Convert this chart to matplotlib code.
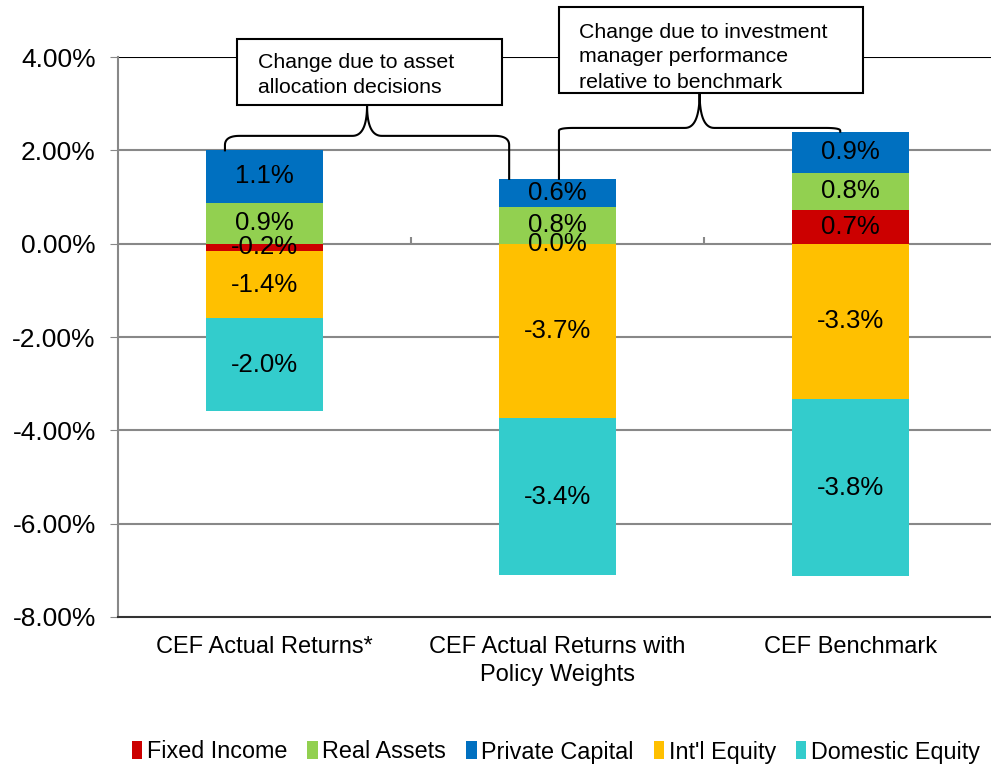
import numpy as np
import matplotlib
matplotlib.use("Agg")
import matplotlib.pyplot as plt
from matplotlib.patches import Rectangle
from matplotlib.ticker import FuncFormatter

plt.rcParams['font.family'] = ['Liberation Sans', 'DejaVu Sans']

# dados (retornos em %)
categorias = ["CEF Actual Returns*", "CEF Actual Returns with\nPolicy Weights", "CEF Benchmark"]
series = ["Fixed Income", "Real Assets", "Private Capital", "Int'l Equity", "Domestic Equity"]
fixed_income = [-0.16, 0.0, 0.73]
real_assets = [0.88, 0.79, 0.79]
private_capital = [1.12, 0.60, 0.88]
intl_equity = [-1.44, -3.73, -3.33]
domestic_equity = [-1.98, -3.38, -3.79]
cores = ["#CC0000", "#92D050", "#0070C0", "#FFC000", "#33CCCC"]

texto_caixa1 = "Change due to asset\nallocation decisions"
texto_caixa2 = "Change due to investment\nmanager performance\nrelative to benchmark"

valores = [fixed_income, real_assets, private_capital, intl_equity, domestic_equity]

W, H = 991, 767
fig = plt.figure(figsize=(W / 100, H / 100), dpi=100)
ax = fig.add_axes([118 / W, (H - 617) / H, 879 / W, 560 / H])

x = np.arange(len(categorias))
pos = np.zeros(len(categorias))
neg = np.zeros(len(categorias))
for nome, vals, cor in zip(series, valores, cores):
    vals = np.array(vals)
    base = np.where(vals >= 0, pos, neg)
    barras = ax.bar(x, vals, bottom=base, width=0.4, color=cor, label=nome, zorder=3)
    rotulos = ax.bar_label(barras, labels=[f"{v:.1f}%" for v in vals], label_type='center', fontsize=18.5)
    for r in rotulos:
        r.set_zorder(6)
    pos = pos + np.where(vals >= 0, vals, 0)
    neg = neg + np.where(vals < 0, vals, 0)

ax.set_xlim(-0.5, 2.5)
ax.set_ylim(-8, 4)
ax.set_yticks(np.arange(-8, 5, 2))
ax.yaxis.set_major_formatter(FuncFormatter(lambda v, p: f"{v:.2f}%"))
ax.set_xticks(x)
ax.set_xticklabels(categorias, fontsize=17, linespacing=1.35)
ax.tick_params(axis='x', length=0, pad=14)
ax.tick_params(axis='y', length=6, color='#888888', labelsize=19, pad=10)

# grade
for g in np.arange(-6, 4, 2):
    ax.axhline(g, color='#888888', lw=1.5, zorder=1)
ax.axhline(4, color='black', lw=1.5, zorder=1)
for s in ['top', 'right']:
    ax.spines[s].set_visible(False)
ax.spines['left'].set_color('#888888')
ax.spines['left'].set_linewidth(1.5)
ax.spines['bottom'].set_color('#333333')
ax.spines['bottom'].set_linewidth(1.5)

# marcas do eixo das categorias na linha do zero
sec = ax.secondary_xaxis(8 / 12)
sec.set_xticks([0.5, 1.5])
sec.tick_params(length=5, color='#888888', width=1.5, labelbottom=False, labeltop=False)
sec.spines['bottom'].set_visible(False)
sec.spines['top'].set_visible(False)


def bezier(p0, p1, p2, n=20):
    t = np.linspace(0, 1, n)[:, None]
    return (1 - t) ** 2 * np.array(p0) + 2 * (1 - t) * t * np.array(p1) + t ** 2 * np.array(p2)


def chave(x0, y0, x1, y1, ymeio, ypico, rx=0.05, ry=0.25):
    xm = (x0 + x1) / 2
    pts = [np.array([[x0, y0], [x0, ymeio - ry]]),
           bezier((x0, ymeio - ry), (x0, ymeio), (x0 + rx, ymeio)),
           np.array([[x0 + rx, ymeio], [xm - rx, ymeio]]),
           bezier((xm - rx, ymeio), (xm, ymeio), (xm, ypico)),
           bezier((xm, ypico), (xm, ymeio), (xm + rx, ymeio)),
           np.array([[xm + rx, ymeio], [x1 - rx, ymeio]]),
           bezier((x1 - rx, ymeio), (x1, ymeio), (x1, ymeio - ry)),
           np.array([[x1, ymeio - ry], [x1, y1]])]
    p = np.vstack(pts)
    ax.plot(p[:, 0], p[:, 1], color='black', lw=1.5, zorder=4, clip_on=False)


topos = pos
chave(x[0] - 0.135, topos[0], x[1] - 0.165, topos[1], 2.31, 2.97, ry=0.2)
chave(x[1] + 0.005, topos[1], x[2] - 0.035, topos[2], 2.48, 3.23, ry=0.06)

# caixas de texto
fig.add_artist(Rectangle((237 / W, (H - 105) / H), 265 / W, 66 / H, transform=fig.transFigure,
                         facecolor='white', edgecolor='black', lw=1.5, zorder=5))
fig.text(258 / W, (H - 75) / H, texto_caixa1, fontsize=15.3, va='center', ha='left', zorder=6,
         linespacing=1.4)
fig.add_artist(Rectangle((559 / W, (H - 93) / H), 304 / W, 86 / H, transform=fig.transFigure,
                         facecolor='white', edgecolor='black', lw=1.5, zorder=5))
fig.text(579 / W, (H - 57) / H, texto_caixa2, fontsize=15.3, va='center', ha='left', zorder=6,
         linespacing=1.4)

fig.legend(loc='center', bbox_to_anchor=(556 / W, (H - 752) / H), ncol=5, frameon=False,
           fontsize=16.8, handlelength=0.45, handleheight=0.8, handletextpad=0.2, columnspacing=0.85)

plt.savefig("out.png", dpi=100)
